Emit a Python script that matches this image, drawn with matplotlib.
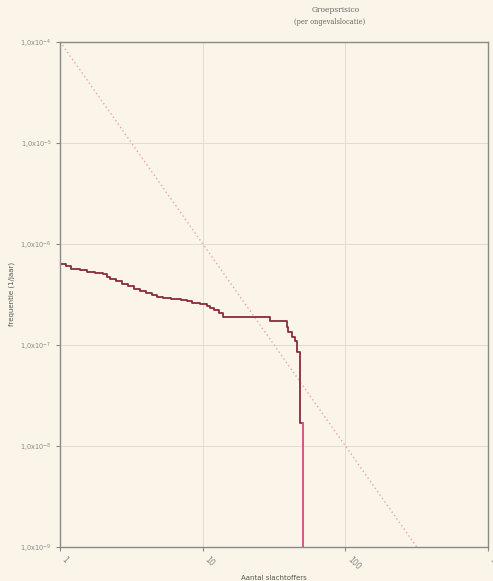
import matplotlib.pyplot as plt
import numpy as np

# Group risk curve (N = number of victims, f = frequency per year)
n_victims = [1.0, 1.1, 1.2, 1.38, 1.55, 1.75, 2.0, 2.13, 2.24, 2.45, 2.7,
             3.0, 3.3, 3.63, 4.0, 4.4, 4.8, 5.27, 6.0, 7.0, 7.77, 8.41,
             9.5, 10.7, 11.2, 12.0, 13.0, 13.9, 29.6, 38.9, 39.5, 42.3,
             44.3, 45.8, 48.1, 50.4]
freq = [6.3e-7, 6.0e-7, 5.7e-7, 5.5e-7, 5.3e-7, 5.15e-7, 5.0e-7, 4.7e-7,
        4.5e-7, 4.25e-7, 4.0e-7, 3.8e-7, 3.6e-7, 3.45e-7, 3.3e-7, 3.15e-7,
        3.0e-7, 2.9e-7, 2.85e-7, 2.8e-7, 2.7e-7, 2.6e-7, 2.55e-7, 2.45e-7,
        2.3e-7, 2.2e-7, 2.05e-7, 1.9e-7, 1.73e-7, 1.5e-7, 1.35e-7, 1.2e-7,
        1.1e-7, 8.5e-8, 1.7e-8, 1e-12]

# orientation value line 1e-4 / N^2
norm_n = [1, 1000]
norm_f = [1e-4, 1e-10]

xticks = [1, 10, 100, 1000]
xtick_labels = ["1", "10", "100", "1000"]
yticks = [1e-9, 1e-8, 1e-7, 1e-6, 1e-5, 1e-4]
ytick_labels = [r"1,0x10$^{-9}$", r"1,0x10$^{-8}$", r"1,0x10$^{-7}$",
                r"1,0x10$^{-6}$", r"1,0x10$^{-5}$", r"1,0x10$^{-4}$"]

bg = "#fbf5e9"
fig = plt.figure(figsize=(4.93, 5.81), dpi=100, facecolor=bg)
ax = fig.add_axes([0.122, 0.0585, 0.868, 0.8695], facecolor=bg)

ax.set_xscale("log")
ax.set_yscale("log")
ax.set_xlim(1, 1000)
ax.set_ylim(1e-9, 1e-4)

ax.grid(True, color="#e3ddd0", linewidth=0.7)
ax.plot(norm_n, norm_f, linestyle=(0, (1, 2)), color="#f0a0a8", linewidth=1.0)

# whole curve dark, lower vertical tail pinkish
ax.plot(n_victims, freq, drawstyle="steps-post", color="#8a2a3a", linewidth=1.3)
ax.plot([n_victims[-1], n_victims[-1]], [freq[-2], freq[-1]], color="#d65a90",
        linewidth=1.4, zorder=5)

ax.set_xticks(xticks)
ax.set_xticklabels(xtick_labels, rotation=-45, ha="left", va="top", fontsize=5.5, color="#888888")
ax.set_yticks(yticks)
ax.set_yticklabels(ytick_labels, fontsize=4.8, color="#888888")
ax.minorticks_off()
ax.tick_params(length=3, color="#888888", pad=3)

for s in ax.spines.values():
    s.set_color("#8a8a8a")
    s.set_linewidth(1.0)

ax.set_xlabel("Aantal slachtoffers", fontsize=5, color="#555555", labelpad=0)
ax.set_ylabel("frequentie (1/jaar)", fontsize=5, color="#555555", labelpad=4)

fig.text(0.68, 0.983, "Groepsrisico", ha="center", va="center", fontsize=5.5,
         family="DejaVu Serif", color="#666666")
fig.text(0.668, 0.962, "(per ongevalslocatie)", ha="center", va="center", fontsize=4.8,
         family="DejaVu Serif", color="#666666")

fig.savefig("out.png", dpi=100, facecolor=bg)
